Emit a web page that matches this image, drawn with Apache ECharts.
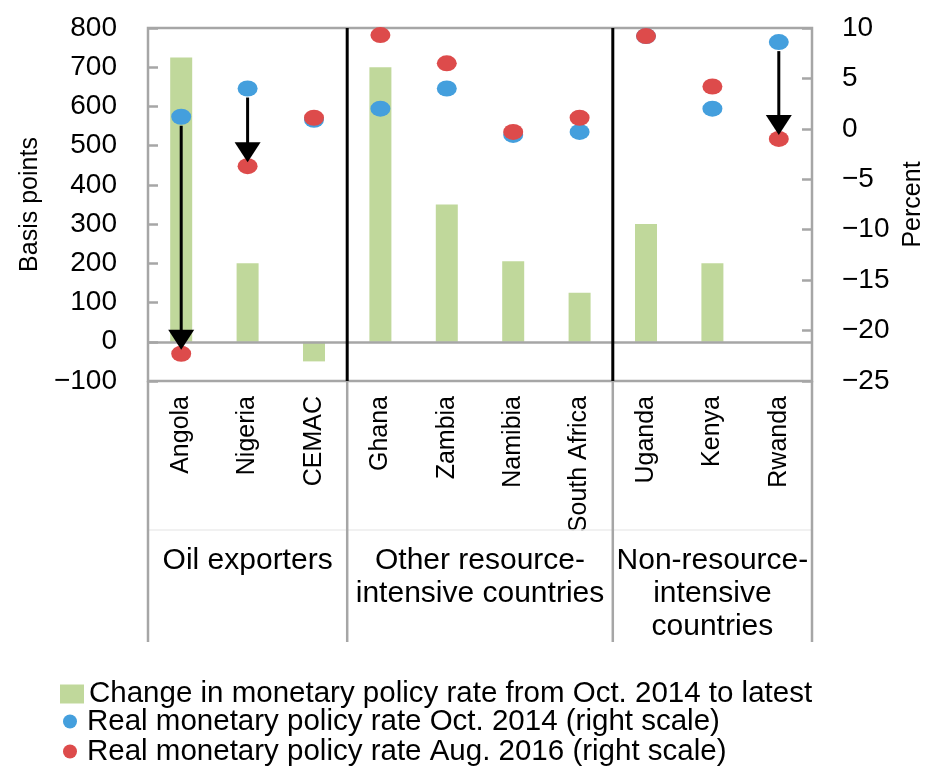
<!DOCTYPE html>
<html>
<head>
<meta charset="utf-8">
<title>Monetary policy rates</title>
<script src="https://cdn.jsdelivr.net/npm/echarts@6/dist/echarts.min.js"></script>
<style>
  html, body { margin: 0; padding: 0; background: #fff; overflow: hidden; }
  #chart { width: 926px; height: 767px; }
</style>
</head>
<body>
<div id="chart"></div>
<script>
// Countries along the x axis
const categories = ['Angola', 'Nigeria', 'CEMAC', 'Ghana', 'Zambia', 'Namibia', 'South Africa', 'Uganda', 'Kenya', 'Rwanda'];
// Change in policy rate since Oct. 2014, basis points (left scale)
const rateChange = [725, 200, -50, 700, 350, 205, 125, 300, 200, 0];
// Real policy rates, percent (right scale)
const realOct2014 = [1.2, 4.0, 0.9, 2.0, 4.0, -0.6, -0.3, 9.2, 2.0, 8.6];
const realAug2016 = [-22.3, -3.7, 1.1, 9.3, 6.5, -0.3, 1.1, 9.2, 4.2, -1.0];
// Countries whose real rate fell sharply get an arrow
const arrowCountries = ['Angola', 'Nigeria', 'Rwanda'];
// Country groups under the axis
const groupNames = ['Oil exporters', 'Other resource-\nintensive countries', 'Non-resource-\nintensive\ncountries'];
const groupSizes = [3, 4, 3];
// Axis tick settings
const leftTicks = { min: -100, max: 800, interval: 100 };
const rightTicks = { min: -25, max: 10, interval: 5 };

const seriesNames = [
  'Change in monetary policy rate from Oct. 2014 to latest',
  'Real monetary policy rate Oct. 2014 (right scale)',
  'Real monetary policy rate Aug. 2016 (right scale)'
];

const FONT = '"Liberation Sans", Arial, sans-serif';
const GRAY = '#a6a6a6';
const GREEN = '#c0d89b';
const BLUE = '#449fdd';
const RED = '#dd4b4b';

const minus = v => String(v).replace('-', '\u2212');

const arrowData = arrowCountries.map(c => {
  const i = categories.indexOf(c);
  return [i, realOct2014[i], realAug2016[i]];
});

function renderArrow(params, api) {
  const i = api.value(0);
  const p0 = api.coord([i, api.value(1)]);
  const p1 = api.coord([i, api.value(2)]);
  const x = p0[0];
  const yStart = p0[1] + 9;
  const tip = p1[1] - 4;
  const headH = 20, headW = 26;
  return {
    type: 'group',
    children: [
      { type: 'line', shape: { x1: x, y1: yStart, x2: x, y2: tip - headH + 2 },
        style: { stroke: '#000', lineWidth: 3 } },
      { type: 'polygon', shape: { points: [[x - headW / 2, tip - headH], [x + headW / 2, tip - headH], [x, tip]] },
        style: { fill: '#000' } }
    ]
  };
}

const chart = echarts.init(document.getElementById('chart'), null, { renderer: 'canvas' });

const legendText = { fontFamily: FONT, fontSize: 29.5, color: '#000', lineHeight: 27.5 };

const option = {
  animation: false,
  textStyle: { fontFamily: FONT },
  grid: {
    left: 148, right: 114, top: 28, bottom: 386,
    containLabel: false, outerBoundsMode: 'none',
    show: true, borderColor: GRAY, borderWidth: 2.5, backgroundColor: 'transparent'
  },
  legend: [
    {
      orient: 'vertical', left: 60, top: 679, padding: 0,
      itemWidth: 24, itemHeight: 19, itemGap: 0,
      textStyle: legendText,
      data: [{ name: seriesNames[0], icon: 'rect' }]
    },
    {
      orient: 'vertical', left: 63, top: 706.5, padding: 0,
      itemWidth: 18, itemHeight: 14, itemGap: 0,
      symbolKeepAspect: false,
      textStyle: Object.assign({ padding: [0, 0, 0, 3] }, legendText),
      data: [{ name: seriesNames[1], icon: 'circle' }, { name: seriesNames[2], icon: 'circle' }]
    }
  ],
  xAxis: {
    type: 'category',
    data: categories,
    boundaryGap: true,
    axisLine: { show: false },
    axisTick: { show: false },
    splitLine: { show: false },
    axisLabel: {
      interval: 0, rotate: 90, margin: 15,
      fontFamily: FONT, fontSize: 25, color: '#000'
    }
  },
  yAxis: [
    {
      type: 'value', position: 'left',
      min: leftTicks.min, max: leftTicks.max, interval: leftTicks.interval,
      name: 'Basis points', nameLocation: 'middle', nameGap: 105, nameRotate: 90,
      nameTextStyle: { fontFamily: FONT, fontSize: 25, color: '#000' },
      axisLine: { show: false },
      axisTick: { show: true, inside: true, length: 10, lineStyle: { color: GRAY, width: 2.5 } },
      splitLine: { show: false },
      axisLabel: { margin: 31, fontFamily: FONT, fontSize: 28, color: '#000', formatter: minus }
    },
    {
      type: 'value', position: 'right',
      min: rightTicks.min, max: rightTicks.max, interval: rightTicks.interval,
      name: 'Percent', nameLocation: 'middle', nameGap: 82, nameRotate: 90,
      nameTextStyle: { fontFamily: FONT, fontSize: 25, color: '#000' },
      axisLine: { show: false },
      axisTick: { show: true, inside: true, length: 10, lineStyle: { color: GRAY, width: 2.5 } },
      splitLine: { show: false },
      axisLabel: { margin: 30, fontFamily: FONT, fontSize: 28, color: '#000', formatter: minus }
    }
  ],
  series: [
    {
      name: seriesNames[0], type: 'bar', yAxisIndex: 0,
      data: rateChange, barWidth: 22,
      itemStyle: { color: GREEN },
      markLine: {
        silent: true, symbol: 'none', label: { show: false },
        lineStyle: { color: GRAY, width: 2.5, type: 'solid' },
        data: [{ yAxis: 0 }]
      },
      z: 2
    },
    {
      name: seriesNames[1], type: 'scatter', yAxisIndex: 1,
      data: realOct2014, symbol: 'circle', symbolSize: [20, 16],
      itemStyle: { color: BLUE, opacity: 1 }, z: 3
    },
    {
      name: seriesNames[2], type: 'scatter', yAxisIndex: 1,
      data: realAug2016, symbol: 'circle', symbolSize: [20, 16],
      itemStyle: { color: RED, opacity: 1 }, z: 4
    },
    {
      name: 'arrows', type: 'custom', yAxisIndex: 1,
      data: arrowData, encode: { x: 0, y: [1, 2] },
      renderItem: renderArrow, silent: true, z: 5
    }
  ]
};

chart.setOption(option);

// Group dividers and group names, positioned from the category axis
function drawGroups() {
  const xs = categories.map((c, i) => chart.convertToPixel({ xAxisIndex: 0 }, i));
  const band = xs[1] - xs[0];
  const edge = k => xs[0] - band / 2 + k * band;
  const yTop = chart.convertToPixel({ yAxisIndex: 0 }, leftTicks.max);
  const yBot = chart.convertToPixel({ yAxisIndex: 0 }, leftTicks.min);
  const yEnd = yBot + 261;
  const elements = [];
  let k = 0;
  const bounds = [0];
  groupSizes.forEach(n => { k += n; bounds.push(k); });
  bounds.forEach((b, j) => {
    const x = edge(b);
    if (j > 0 && j < bounds.length - 1) {
      elements.push({ type: 'line', z: 10, shape: { x1: x, y1: yTop, x2: x, y2: yBot },
        style: { stroke: '#000', lineWidth: 3 } });
    }
    elements.push({ type: 'line', z: 10, shape: { x1: x, y1: yBot, x2: x, y2: yEnd },
      style: { stroke: GRAY, lineWidth: 2.5 } });
  });
  elements.push({ type: 'line', z: 9, shape: { x1: edge(0), y1: yBot + 149, x2: edge(categories.length), y2: yBot + 149 },
    style: { stroke: '#ececec', lineWidth: 1.5 } });
  groupNames.forEach((name, j) => {
    const cx = (edge(bounds[j]) + edge(bounds[j + 1])) / 2;
    elements.push({
      type: 'text', z: 10, x: cx, y: yBot + 163,
      style: { text: name, fontFamily: FONT, fontSize: 30, fill: '#000',
        align: 'center', verticalAlign: 'top', lineHeight: 33 }
    });
  });
  chart.setOption({ graphic: { elements } });
}
drawGroups();
</script>
</body>
</html>
